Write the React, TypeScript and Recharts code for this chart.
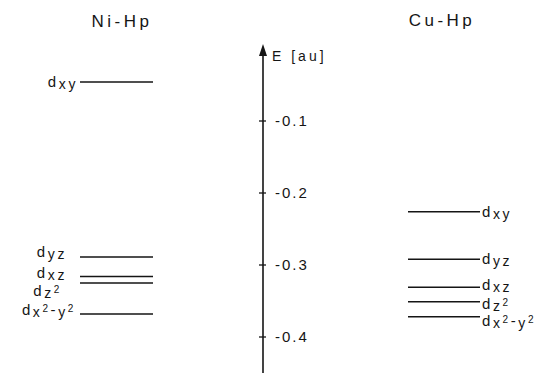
import React from 'react';
import { ComposedChart, XAxis, YAxis, ReferenceLine, ReferenceDot } from 'recharts';

// ---- data ----
const levelNames = ['dxy', 'dyz', 'dxz', 'dz2', 'dx2-y2'];
const niEnergies = [-0.046, -0.289, -0.316, -0.325, -0.368];
const cuEnergies = [-0.226, -0.292, -0.331, -0.351, -0.372];
const yTicks = [-0.1, -0.2, -0.3, -0.4];
const tickLabels = ['-0.1', '-0.2', '-0.3', '-0.4'];
const titles = ['Ni-Hp', 'Cu-Hp'];
const axisLabel = 'E [au]';

// text pieces for orbital labels: [text, kind]
const labelParts: Record<string, [string, 'n' | 'b' | 'p'][]> = {
  dxy: [['d', 'n'], ['xy', 'b']],
  dyz: [['d', 'n'], ['yz', 'b']],
  dxz: [['d', 'n'], ['xz', 'b']],
  dz2: [['d', 'n'], ['z', 'b'], ['2', 'p']],
  'dx2-y2': [['d', 'n'], ['x', 'b'], ['2', 'p'], ['-', 'n'], ['y', 'b'], ['2', 'p']],
};

// ---- layout ----
const FONT = '"Liberation Sans", Arial, sans-serif';
const INK = '#151515';
const AXIS_X = 263;
const NI_X = [80, 153];
const CU_X = [408, 480];
const NI_LABEL_DX = [-2, -13, -13, -18, -4];
const NI_LABEL_DY = [0, -5, -4, 8, -4];
const CU_LABEL_DX = [2, 2, 2, 2, 2];
const CU_LABEL_DY = [0, 0, -2, 2, 4];

const shift = { n: 0, b: 2, p: -3 };
const sizes = { n: 15, b: 14, p: 10 };

function renderOrbital(name: string, x: number, y: number, anchor: 'start' | 'end') {
  const parts = labelParts[name];
  let cur = 0;
  return (
    <text x={x} y={y + 5} textAnchor={anchor} fontFamily={FONT} fill={INK} letterSpacing={2.6}>
      {parts.map(([t, k], i) => {
        const d = shift[k] - cur;
        cur = shift[k];
        return (
          <tspan key={i} dy={d} fontSize={sizes[k]}>
            {t}
          </tspan>
        );
      })}
    </text>
  );
}

const Arrow = (props: any) => {
  const { cx, cy } = props;
  return <polygon points={`${cx},${cy - 5} ${cx - 4},${cy + 7} ${cx + 4},${cy + 7}`} fill={INK} />;
};

export default function App() {
  return (
    <div style={{ position: 'absolute', left: 0, top: 0, width: 547, height: 373, background: '#fff' }}>
      <ComposedChart width={547} height={373} margin={{ top: 49, right: 0, bottom: 0, left: 0 }}>
        <XAxis type="number" dataKey="x" domain={[0, 547]} hide allowDataOverflow />
        <YAxis type="number" domain={[-0.45, 0]} hide allowDataOverflow />
        {/* energy axis */}
        <ReferenceLine x={AXIS_X} stroke={INK} strokeWidth={1.6} ifOverflow="visible" />
        <ReferenceDot x={AXIS_X} y={0} r={4} shape={Arrow} ifOverflow="visible" />
        {yTicks.map((t, i) => (
          <ReferenceLine
            key={'t' + t}
            segment={[
              { x: AXIS_X - 4, y: t },
              { x: AXIS_X + 3, y: t },
            ]}
            stroke={INK}
            strokeWidth={1.3}
            ifOverflow="visible"
            label={(p: any) => (
              <text
                x={p.viewBox.x + 16}
                y={p.viewBox.y + 5}
                fontSize={15}
                letterSpacing={2}
                fill={INK}
                fontFamily={FONT}
              >
                {tickLabels[i]}
              </text>
            )}
          />
        ))}
        {levelNames.map((name, i) => (
          <ReferenceLine
            key={'ni' + name}
            segment={[
              { x: NI_X[0], y: niEnergies[i] },
              { x: NI_X[1], y: niEnergies[i] },
            ]}
            stroke={INK}
            strokeWidth={1.5}
            ifOverflow="visible"
            label={(p: any) =>
              renderOrbital(name, p.viewBox.x + NI_LABEL_DX[i], p.viewBox.y + NI_LABEL_DY[i], 'end')
            }
          />
        ))}
        {levelNames.map((name, i) => (
          <ReferenceLine
            key={'cu' + name}
            segment={[
              { x: CU_X[0], y: cuEnergies[i] },
              { x: CU_X[1], y: cuEnergies[i] },
            ]}
            stroke={INK}
            strokeWidth={1.5}
            ifOverflow="visible"
            label={(p: any) =>
              renderOrbital(
                name,
                p.viewBox.x + p.viewBox.width + CU_LABEL_DX[i],
                p.viewBox.y + CU_LABEL_DY[i],
                'start'
              )
            }
          />
        ))}
      </ComposedChart>
      <div style={{ position: 'absolute', left: 62, top: 13, width: 120, textAlign: 'center', fontFamily: FONT, fontSize: 17, lineHeight: '17px', letterSpacing: 3.5, color: INK }}>
        {titles[0]}
      </div>
      <div style={{ position: 'absolute', left: 382, top: 12, width: 120, textAlign: 'center', fontFamily: FONT, fontSize: 17, lineHeight: '17px', letterSpacing: 3.5, color: INK }}>
        {titles[1]}
      </div>
      <div style={{ position: 'absolute', left: 272, top: 49, fontFamily: FONT, fontSize: 14, lineHeight: '14px', letterSpacing: 3, color: INK, whiteSpace: 'nowrap' }}>
        {axisLabel}
      </div>
    </div>
  );
}
